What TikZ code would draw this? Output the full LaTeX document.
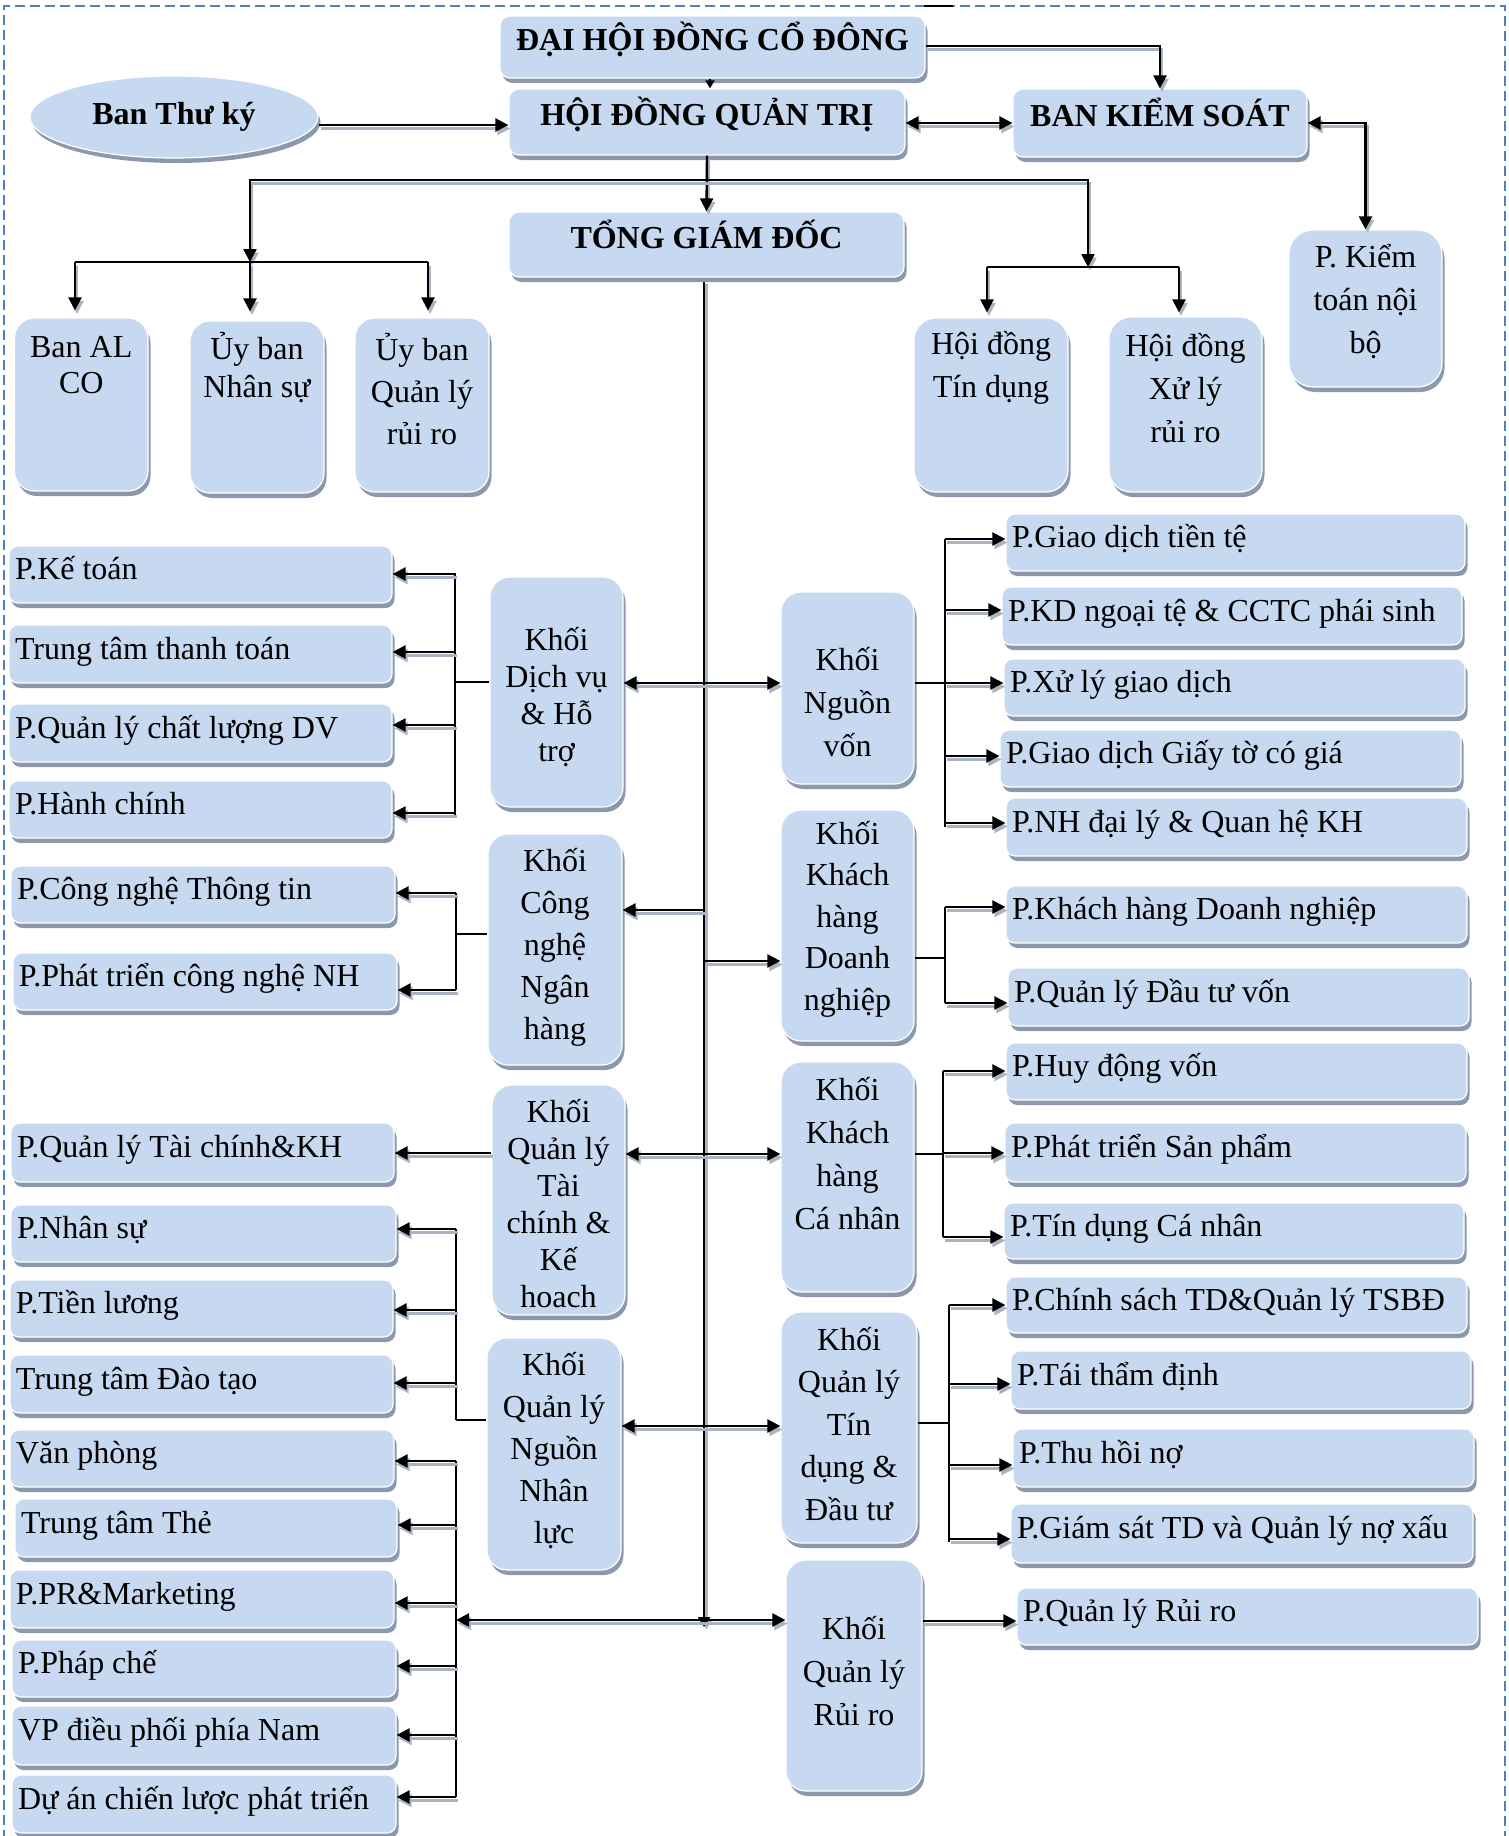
\documentclass[tikz,border=0pt]{standalone}
\usepackage{fontspec}
\setmainfont{Liberation Serif}
\usetikzlibrary{arrows.meta,shapes.geometric,shadows}
\definecolor{boxfill}{HTML}{C6D9F1}
\definecolor{boxshd}{HTML}{8C99AD}
\definecolor{lineshd}{HTML}{A9B3C2}
\definecolor{bordcol}{HTML}{4F81BD}
\newcommand\wbox[6]{%
  \pgfmathsetmacro\wbW{#4-#2}%
  \pgfmathsetmacro\wbH{#5-#3}%
  \pgfmathsetmacro\wbX{(#2+#4)/2}%
  \pgfmathsetmacro\wbY{(#3+#5)/2}%
  \pgfmathsetmacro\wbT{#4-#2-12}%
  \node[widebox, minimum width=\wbW pt, minimum height=\wbH pt, text width=\wbT pt] (#1) at (\wbX,\wbY) {\spaceskip=.25em\relax #6};}
\newcommand\kbox[9]{%
  \pgfmathsetmacro\wbW{#4-#2}%
  \pgfmathsetmacro\wbH{#5-#3}%
  \pgfmathsetmacro\wbX{(#2+#4)/2}%
  \pgfmathsetmacro\wbY{(#3+#5)/2}%
  \node[kshape, rounded corners=#8pt, minimum width=\wbW pt, minimum height=\wbH pt] (#1) at (\wbX,\wbY) {};
  \node[ktext, font=\fontsize{32}{#7}\selectfont] (#1-t) at (\wbX,#6) {#9};}
\begin{document}
\begin{tikzpicture}[x=1pt,y=-1pt,
  boxshadow/.style={drop shadow={shadow xshift=2.5pt,shadow yshift=-5pt,fill=boxshd,opacity=1}},
  widebox/.style={rounded corners=9pt, fill=boxfill, draw=white, line width=1.2pt, boxshadow,
    font=\fontsize{32}{38}\selectfont, align=left, inner xsep=6pt, inner ysep=0pt,
    text height=22pt, text depth=12pt},
  topbox/.style={rounded corners=10pt, fill=boxfill, draw=white, line width=1.2pt, boxshadow,
    font=\bfseries\fontsize{32}{38}\selectfont, align=center, inner sep=0pt,
    text height=22pt, text depth=15pt},
  ellbox/.style={ellipse, fill=boxfill, draw=white, line width=1.2pt, boxshadow,
    font=\bfseries\fontsize{32}{38}\selectfont, inner sep=0pt},
  kshape/.style={fill=boxfill, draw=white, line width=1.2pt, boxshadow, inner sep=0pt},
  ktext/.style={align=center, inner sep=0pt},
  tip/.style={-{Triangle[length=13pt,width=13pt]}},
  arr/.style={line width=2.4pt, tip,
    preaction={draw=lineshd, line width=2.4pt, tip, transform canvas={shift={(2pt,-3.5pt)}}}},
  arrb/.style={line width=2.4pt, {Triangle[length=13pt,width=13pt]}-{Triangle[length=13pt,width=13pt]},
    preaction={draw=lineshd, line width=2.4pt, {Triangle[length=13pt,width=13pt]}-{Triangle[length=13pt,width=13pt]}, transform canvas={shift={(2pt,-3.5pt)}}}},
  ln/.style={line width=2.4pt},
  brk/.style={line width=1.8pt},
]
\useasboundingbox (0,0) rectangle (1508,1836);
% border
\draw[bordcol, line width=1.8pt, dash pattern=on 10pt off 5pt] (4,1840) -- (4,6) -- (1505,6) -- (1505,1840);
\draw[line width=2pt] (924,6) -- (953,6);

% top level
\node[topbox, minimum width=425pt, minimum height=62pt] (dhdcd) at (712.5,47) {ĐẠI HỘI ĐỒNG CỔ ĐÔNG};
\node[topbox, minimum width=396pt, minimum height=66pt] (hdqt) at (707,122) {HỘI ĐỒNG QUẢN TRỊ};
\node[topbox, minimum width=294pt, minimum height=68pt] (bks) at (1160,123) {BAN KIỂM SOÁT};
\node[topbox, minimum width=395pt, minimum height=65pt] (tgd) at (706.5,244.5) {TỔNG GIÁM ĐỐC};
\node[ellbox, minimum width=288pt, minimum height=82pt] (btk) at (174,117) {Ban Thư ký};

% committees
\kbox{alco}{14.5}{318}{148}{491}{365}{36}{20}{Ban AL\\CO}
\kbox{ubns}{190}{321}{324}{493}{368}{38}{20}{Ủy ban\\Nhân sự}
\kbox{ubqlrr}{355}{318}{489}{492}{389}{42}{20}{Ủy ban\\Quản lý\\rủi ro}
\kbox{hdtd}{914}{318}{1068}{492}{368}{43}{22}{Hội đồng\\Tín dụng}
\kbox{hdxl}{1109}{317}{1262}{492}{388}{43}{22}{Hội đồng\\Xử lý\\rủi ro}
\kbox{pkt}{1289}{230}{1442}{387}{302}{43}{24}{P. Kiểm\\toán nội\\bộ}

% Khoi boxes
\kbox{kdv}{490}{577}{623}{807}{697}{37}{20}{Khối\\Dịch vụ\\\& Hỗ\\trợ}
\kbox{kcn}{488}{834}{622}{1065}{947}{42}{20}{Khối\\Công\\nghệ\\Ngân\\hàng}
\kbox{ktc}{492}{1085}{625}{1315}{1204}{37}{20}{Khối\\Quản lý\\Tài\\chính \&\\Kế\\hoach}
\kbox{knnl}{487}{1338}{621}{1570}{1451}{42}{20}{Khối\\Quản lý\\Nguồn\\Nhân\\lực}
\kbox{knv}{781}{592}{914}{784}{702}{43}{20}{Khối\\Nguồn\\vốn}
\kbox{kkhdn}{781}{810}{914}{1041}{919}{41.5}{20}{Khối\\Khách\\hàng\\Doanh\\nghiệp}
\kbox{kkhcn}{781}{1062}{914}{1292}{1154}{43}{20}{Khối\\Khách\\hàng\\Cá nhân}
\kbox{ktd}{781}{1312}{917}{1543}{1424}{42.5}{20}{Khối\\Quản lý\\Tín\\dụng \&\\Đầu tư}
\kbox{krr}{786}{1560}{922}{1791}{1671}{43}{20}{Khối\\Quản lý\\Rủi ro}

% left departments
\wbox{pkto}{9}{546}{392}{603}{P.Kế toán}
\wbox{pttt}{9}{625}{392}{683}{Trung tâm thanh toán}
\wbox{pqlcl}{9}{704}{392}{762}{P.Quản lý chất lượng DV}
\wbox{phc}{9}{781}{392}{838}{P.Hành chính}
\wbox{pcntt}{11}{866}{395}{923}{P.Công nghệ Thông tin}
\wbox{pptcn}{13}{953}{397}{1010}{P.Phát triển công nghệ NH}
\wbox{pqltc}{11}{1123}{394}{1182}{P.Quản lý Tài chính\&KH}
\wbox{pns}{11}{1205}{396}{1262}{P.Nhân sự}
\wbox{ptl}{10}{1280}{393}{1337}{P.Tiền lương}
\wbox{ttdt}{10}{1355}{393}{1413}{Trung tâm Đào tạo}
\wbox{vp}{10}{1430}{394}{1487}{Văn phòng}
\wbox{ttthe}{15}{1499}{397}{1557}{Trung tâm Thẻ}
\wbox{ppr}{10}{1570}{394}{1628}{P.PR\&Marketing}
\wbox{ppc}{12}{1640}{396}{1697}{P.Pháp chế}
\wbox{vpdp}{12}{1706}{396}{1765}{VP điều phối phía Nam}
\wbox{daclpt}{12}{1775}{396}{1833}{Dự án chiến lược phát triển}

% right departments
\wbox{pgdtt}{1006}{514}{1465}{571}{P.Giao dịch tiền tệ}
\wbox{pkdnt}{1002}{587}{1462}{645}{P.KD ngoại tệ \& CCTC phái sinh}
\wbox{pxlgd}{1004}{659}{1465}{716}{P.Xử lý giao dịch}
\wbox{pgdgt}{1000}{730}{1461}{787}{P.Giao dịch Giấy tờ có giá}
\wbox{pnhdl}{1006}{798}{1467}{856}{P.NH đại lý \& Quan hệ KH}
\wbox{pkhdn}{1006}{886}{1467}{943}{P.Khách hàng Doanh nghiệp}
\wbox{pqldt}{1008}{968}{1469}{1026}{P.Quản lý Đầu tư vốn}
\wbox{phdv}{1006}{1043}{1467}{1100}{P.Huy động vốn}
\wbox{pptsp}{1005}{1123}{1466}{1182}{P.Phát triển Sản phẩm}
\wbox{ptdcn}{1004}{1203}{1464}{1259}{P.Tín dụng Cá nhân}
\wbox{pcstd}{1006}{1277}{1467}{1333}{P.Chính sách TD\&Quản lý TSBĐ}
\wbox{ptttd}{1011}{1351}{1471}{1409}{P.Tái thẩm định}
\wbox{pthn}{1013}{1429}{1474}{1487}{P.Thu hồi nợ}
\wbox{pgstd}{1011}{1504}{1473}{1563}{P.Giám sát TD và Quản lý nợ xấu}
\wbox{pqlrr}{1017}{1588}{1478}{1645}{P.Quản lý Rủi ro}

% helper coordinates
\coordinate (x710) at (710,0);
\coordinate (jt) at (706,180);
\coordinate (lb1) at (75,262);
\coordinate (lbj) at (250,262);
\coordinate (lb3) at (428,262);
\coordinate (rb1) at (987,267);
\coordinate (rbj) at (1088,267);
\coordinate (rb2) at (1179,267);
\coordinate (trtop) at (704,282);
\coordinate (trbot) at (704,1627);
\coordinate (B1) at (455,0);
\coordinate (B2) at (456,0);
\coordinate (R1) at (945,0);
\coordinate (R3) at (943,0);
\coordinate (R4) at (949,0);

% top connectors
\draw[line width=2.4pt, -{Triangle[length=8pt,width=9pt]}] (dhdcd.south -| x710) -- (hdqt.north -| x710);
\draw[arr] (btk.east |- 0,125) -- (hdqt.west |- 0,125);
\draw[arrb] (hdqt.east |- 0,123) -- (bks.west |- 0,123);
\draw[arr] (dhdcd.east |- 0,46) -| (bks.north);
\draw[arrb] (bks.east |- 0,123) -| (pkt.north);
\draw[arr] (hdqt.south) -- (tgd.north);
\draw[arr] (jt) -| (lbj);
\draw[arr] (jt) -| (rbj);
\draw[ln] (lb1) -- (lb3);
\draw[ln] (rb1) -- (rb2);
\draw[arr, shorten >=7pt] (lb1) -- (alco.north -| lb1);
\draw[arr, shorten >=9pt] (lbj) -- (ubns.north -| lbj);
\draw[arr, shorten >=7pt] (lb3) -- (ubqlrr.north -| lb3);
\draw[arr, shorten >=5pt] (rb1) -- (hdtd.north -| rb1);
\draw[arr, shorten >=4pt] (rb2) -- (hdxl.north -| rb2);

% trunk
\draw[line width=2.8pt, -{Triangle[length=10pt,width=12pt]},
  preaction={draw=lineshd, line width=2.4pt, transform canvas={shift={(2.5pt,-2pt)}}}] (trtop) -- (trbot);

% middle connectors
\draw[arrb] (kdv.east |- 0,683) -- (knv.west |- 0,683);
\draw[arr] (trtop |- 0,910) -- (kcn.east |- 0,910);
\draw[arr] (trtop |- 0,961) -- (kkhdn.west |- 0,961);
\draw[arrb] (ktc.east |- 0,1154) -- (kkhcn.west |- 0,1154);
\draw[arrb] (knnl.east |- 0,1426) -- (ktd.west |- 0,1426);
\draw[arrb] (B2 |- 0,1620) -- (krr.west |- 0,1620);

% left brackets
\draw[brk] (B1 |- 0,573) -- (B1 |- 0,815);
\draw[brk] (B1 |- 0,682) -- (kdv.west |- 0,682);
\foreach \n/\y in {pkto/574, pttt/652, pqlcl/725, phc/813}
  \draw[arr] (B1 |- 0,\y) -- (\n.east |- 0,\y);
\draw[brk] (B2 |- 0,893) -- (B2 |- 0,990);
\draw[brk] (B2 |- 0,934) -- (kcn.west |- 0,934);
\foreach \n/\y in {pcntt/893, pptcn/990}
  \draw[arr] (B2 |- 0,\y) -- (\n.east |- 0,\y);
\draw[arr] (ktc.west |- 0,1153) -- (pqltc.east |- 0,1153);
\draw[brk] (B2 |- 0,1229) -- (B2 |- 0,1420);
\draw[brk] (B2 |- 0,1420) -- (knnl.west |- 0,1420);
\foreach \n/\y in {pns/1229, ptl/1310, ttdt/1383}
  \draw[arr] (B2 |- 0,\y) -- (\n.east |- 0,\y);
\draw[brk] (B2 |- 0,1461) -- (B2 |- 0,1797);
\foreach \n/\y in {vp/1461, ttthe/1525, ppr/1603, ppc/1666, vpdp/1735, daclpt/1797}
  \draw[arr] (B2 |- 0,\y) -- (\n.east |- 0,\y);

% right brackets
\draw[brk] (R1 |- 0,539) -- (R1 |- 0,827);
\draw[brk] (knv.east |- 0,683) -- (R1 |- 0,683);
\foreach \n/\y in {pgdtt/539, pkdnt/610, pxlgd/683, pgdgt/756, pnhdl/823}
  \draw[arr] (R1 |- 0,\y) -- (\n.west |- 0,\y);
\draw[brk] (R1 |- 0,907) -- (R1 |- 0,1003);
\draw[brk] (kkhdn.east |- 0,958) -- (R1 |- 0,958);
\foreach \n/\y in {pkhdn/907, pqldt/1003}
  \draw[arr] (R1 |- 0,\y) -- (\n.west |- 0,\y);
\draw[brk] (R3 |- 0,1071) -- (R3 |- 0,1237);
\draw[brk] (kkhcn.east |- 0,1154) -- (R3 |- 0,1154);
\foreach \n/\y in {phdv/1071, pptsp/1153, ptdcn/1237}
  \draw[arr] (R3 |- 0,\y) -- (\n.west |- 0,\y);
\draw[brk] (R4 |- 0,1305) -- (R4 |- 0,1542);
\draw[brk] (ktd.east |- 0,1423) -- (R4 |- 0,1423);
\foreach \n/\y in {pcstd/1305, ptttd/1384, pthn/1465, pgstd/1539}
  \draw[arr] (R4 |- 0,\y) -- (\n.west |- 0,\y);
\draw[arr] (krr.east |- 0,1621) -- (pqlrr.west |- 0,1621);
\end{tikzpicture}
\end{document}
